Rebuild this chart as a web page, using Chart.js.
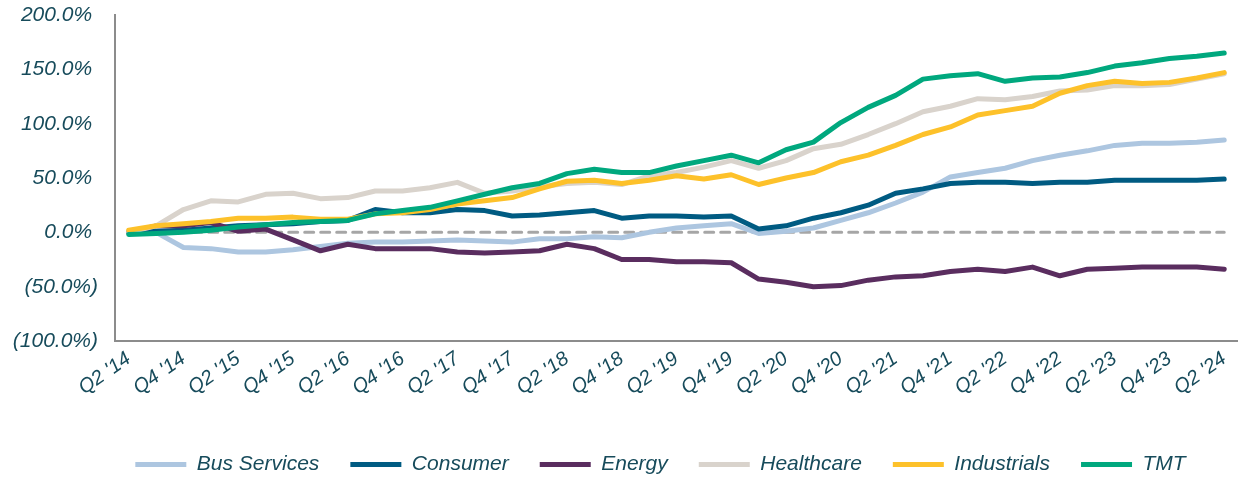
<!DOCTYPE html>
<html>
<head>
<meta charset="utf-8">
<script src="https://cdn.jsdelivr.net/npm/chart.js@4.4.1/dist/chart.umd.min.js"></script>
<style>
  html, body { margin: 0; padding: 0; background: #fff; }
</style>
</head>
<body>
<canvas id="myChart" width="1244" height="478"></canvas>
<script>
// quarterly cumulative return by sector, Q2 '14 = 0%
const quarters = [
  "Q2 '14", "Q3 '14", "Q4 '14",
  "Q1 '15", "Q2 '15", "Q3 '15", "Q4 '15",
  "Q1 '16", "Q2 '16", "Q3 '16", "Q4 '16",
  "Q1 '17", "Q2 '17", "Q3 '17", "Q4 '17",
  "Q1 '18", "Q2 '18", "Q3 '18", "Q4 '18",
  "Q1 '19", "Q2 '19", "Q3 '19", "Q4 '19",
  "Q1 '20", "Q2 '20", "Q3 '20", "Q4 '20",
  "Q1 '21", "Q2 '21", "Q3 '21", "Q4 '21",
  "Q1 '22", "Q2 '22", "Q3 '22", "Q4 '22",
  "Q1 '23", "Q2 '23", "Q3 '23", "Q4 '23",
  "Q1 '24", "Q2 '24"
];

const busServices = [0, 0, -14, -15, -18, -18, -16, -13, -10, -9, -9, -8, -7, -8, -9, -6, -6, -4, -5, 0, 4, 6, 8, -1, 1, 4, 11, 18, 27, 37, 51, 55, 59, 66, 71, 75, 80, 82, 82, 83, 85];
const consumer = [0, 1, 2, 4, 6, 7, 8, 10, 11, 21, 18, 18, 21, 20, 15, 16, 18, 20, 13, 15, 15, 14, 15, 3, 6, 13, 18, 25, 36, 40, 45, 46, 46, 45, 46, 46, 48, 48, 48, 48, 49];
const energy = [0, 6, 6, 9, 1, 3, -7, -17, -11, -15, -15, -15, -18, -19, -18, -17, -11, -15, -25, -25, -27, -27, -28, -43, -46, -50, -49, -44, -41, -40, -36, -34, -36, -32, -40, -34, -33, -32, -32, -32, -34];
const healthcare = [0, 6, 21, 29, 28, 35, 36, 31, 32, 38, 38, 41, 46, 36, 38, 42, 45, 46, 44, 52, 55, 60, 66, 59, 66, 77, 81, 90, 100, 111, 116, 123, 122, 125, 130, 131, 135, 135, 136, 141, 146];
const industrials = [2, 6, 8, 10, 13, 13, 14, 12, 12, 17, 18, 21, 26, 29, 32, 40, 47, 48, 45, 48, 52, 49, 53, 44, 50, 55, 65, 71, 80, 90, 97, 108, 112, 116, 128, 135, 139, 137, 138, 142, 147];
const tmt = [-2, -1, 0, 2, 5, 7, 9, 10, 11, 17, 20, 23, 29, 35, 41, 45, 54, 58, 55, 55, 61, 66, 71, 64, 76, 83, 101, 115, 126, 141, 144, 146, 139, 142, 143, 147, 153, 156, 160, 162, 165];

const sectorNames = ["Bus Services", "Consumer", "Energy", "Healthcare", "Industrials", "TMT"];
const sectorColors = ["#adc6e0", "#005b82", "#5a2d5f", "#d9d3cc", "#fdc12a", "#00a87e"];
const sectorValues = [busServices, consumer, energy, healthcare, industrials, tmt];

const textColor = "#174b5b";
const axisColor = "#8c8c8c";
const fontFamily = "'Liberation Sans', Arial, sans-serif";

// dashed 0% line under the series
const zeroLine = {
  id: "zeroLine",
  beforeDatasetsDraw(chart) {
    const xs = chart.scales.x, ys = chart.scales.y, ctx = chart.ctx;
    const py = ys.getPixelForValue(0);
    ctx.save();
    ctx.strokeStyle = "#a6a6a6";
    ctx.lineWidth = 3;
    ctx.lineCap = "round";
    ctx.setLineDash([9, 7]);
    ctx.beginPath();
    ctx.moveTo(xs.getPixelForValue(0), py);
    ctx.lineTo(xs.getPixelForValue(quarters.length - 1), py);
    ctx.stroke();
    ctx.restore();
  }
};

// legend sits a bit right of the canvas centre in the original
const legendNudge = {
  id: "legendNudge",
  afterLayout(chart) {
    chart.legend.left += 32;
    chart.legend.right += 32;
  }
};

let datasets = sectorNames.map((name, i) => ({
  label: name,
  data: sectorValues[i],
  borderColor: sectorColors[i],
  backgroundColor: sectorColors[i],
  borderWidth: 5,
  borderCapStyle: "round",
  borderJoinStyle: "round",
  pointRadius: 0,
  tension: 0,
  order: sectorNames.length - i   // later series drawn on top
}));

let ctx = document.getElementById("myChart").getContext("2d");
let chart = new Chart(ctx, {
  type: "line",
  data: { labels: quarters, datasets: datasets },
  plugins: [zeroLine, legendNudge],
  options: {
    responsive: false,
    animation: false,
    layout: { padding: { left: 13, top: 15, right: 0, bottom: -7 } },
    scales: {
      x: {
        offset: true,
        grid: { display: false, drawTicks: false },
        border: { display: true, color: axisColor, width: 2 },
        afterFit(scale) { scale.height = 82; },
        ticks: {
          autoSkip: false,
          minRotation: 35,
          maxRotation: 35,
          padding: 6,
          color: textColor,
          font: { family: fontFamily, size: 20, style: "italic" },
          callback: (val, idx) => idx % 2 === 0 ? quarters[idx] : ""
        }
      },
      y: {
        min: -100,
        max: 200,
        grid: { display: false, drawTicks: false },
        border: { display: true, color: axisColor, width: 2 },
        afterFit(scale) {
          scale.width = 102;
          scale.paddingTop = 0;
          scale.paddingBottom = 0;
        },
        ticks: {
          stepSize: 50,
          padding: 17,
          color: textColor,
          font: { family: fontFamily, size: 21, style: "italic" },
          callback: v => v < 0 ? "(" + Math.abs(v).toFixed(1) + "%)" : v.toFixed(1) + "% "
        }
      }
    },
    plugins: {
      tooltip: { enabled: false },
      legend: {
        position: "bottom",
        labels: {
          usePointStyle: true,
          pointStyle: "line",
          pointStyleWidth: 51,
          padding: 31,
          color: textColor,
          font: { family: fontFamily, size: 21, style: "italic" },
          sort: (a, b) => a.datasetIndex - b.datasetIndex,
          generateLabels(c) {
            return Chart.defaults.plugins.legend.labels.generateLabels(c)
              .map(l => Object.assign(l, { lineWidth: 5 }));
          }
        }
      }
    }
  }
});
</script>
</body>
</html>
